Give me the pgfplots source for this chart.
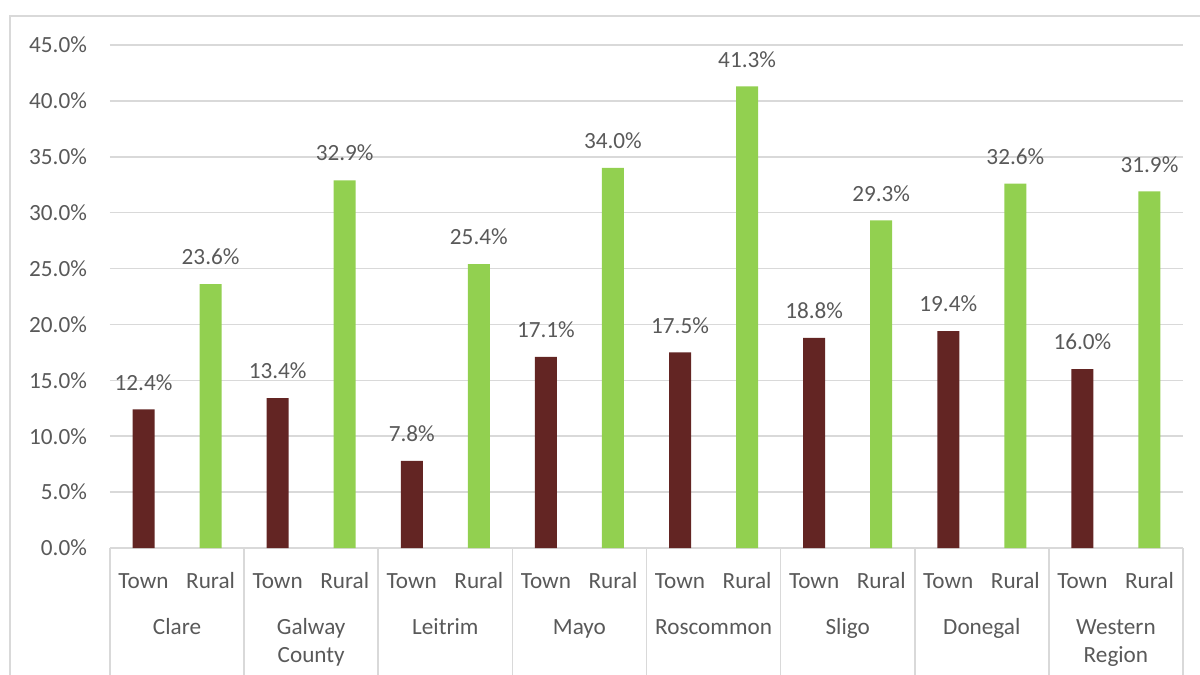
\documentclass[border=0pt]{standalone}
\usepackage{pgfplots}
\pgfplotsset{compat=1.18}
\usepackage{fontspec}
\setmainfont{Carlito}
\definecolor{town}{HTML}{632523}
\definecolor{rural}{HTML}{92D050}
\definecolor{txt}{HTML}{595959}
\definecolor{gridc}{HTML}{D9D9D9}
\newcommand{\lblfont}{\fontsize{11.6}{14}\selectfont}
\begin{document}
\begin{tikzpicture}
\clip (-55pt,-63.5pt) rectangle (545pt,274pt);
\draw[gridc, line width=0.8pt] (-50pt,-90pt) rectangle (570pt,266pt);
\begin{axis}[
  at={(0,0)}, anchor=south west,
  width=536.5pt, height=251.5pt, scale only axis,
  xmin=0, xmax=16, ymin=0, ymax=45,
  axis x line*=bottom, axis y line*=left,
  x axis line style={draw=gridc, line width=0.8pt, -},
  y axis line style={draw=none},
  ytick={0,5,...,45},
  ymajorgrids, grid style={gridc, line width=0.8pt},
  major tick length=0pt,
  /pgf/number format/assume math mode=true,
  yticklabel={\pgfmathprintnumber[fixed,fixed zerofill,precision=1]{\tick}\%},
  yticklabel style={txt, font=\lblfont, anchor=east, xshift=-8pt},
  xtick={0.5,1.5,...,15.5},
  xticklabels={Town,Rural,Town,Rural,Town,Rural,Town,Rural,Town,Rural,Town,Rural,Town,Rural,Town,Rural},
  xticklabel style={txt, font=\lblfont, anchor=base, yshift=-20pt},
  ybar=0pt, bar width=11pt,
  nodes near coords={\pgfmathprintnumber[fixed,fixed zerofill,precision=1]{\pgfplotspointmeta}\%},
  nodes near coords style={txt, font=\lblfont, anchor=south, yshift=6pt},
  clip=false,
]
\addplot[draw=none, fill=town, bar shift=0pt] coordinates {
  (0.5,12.4) (2.5,13.4) (4.5,7.8) (6.5,17.1) (8.5,17.5) (10.5,18.8) (12.5,19.4) (14.5,16.0)};
\addplot[draw=none, fill=rural, bar shift=0pt] coordinates {
  (1.5,23.6) (3.5,32.9) (5.5,25.4) (7.5,34.0) (9.5,41.3) (11.5,29.3) (13.5,32.6) (15.5,31.9)};
\pgfplotsinvokeforeach{0,2,4,6,8,10,12,14,16}{
  \draw[gridc, line width=0.8pt] (axis cs:#1,0) -- ++(0pt,-65pt);
}
\end{axis}
\foreach \i/\a/\b in {0/Clare/{}, 1/Galway/County, 2/Leitrim/{}, 3/Mayo/{}, 4/Roscommon/{}, 5/Sligo/{}, 6/Donegal/{}, 7/Western/Region}{
  \node[txt, font=\lblfont, anchor=base] at (33.53125pt+\i*67.0625pt,-43pt) {\a};
  \node[txt, font=\lblfont, anchor=base] at (33.53125pt+\i*67.0625pt,-57pt) {\b};
}
\end{tikzpicture}
\end{document}
